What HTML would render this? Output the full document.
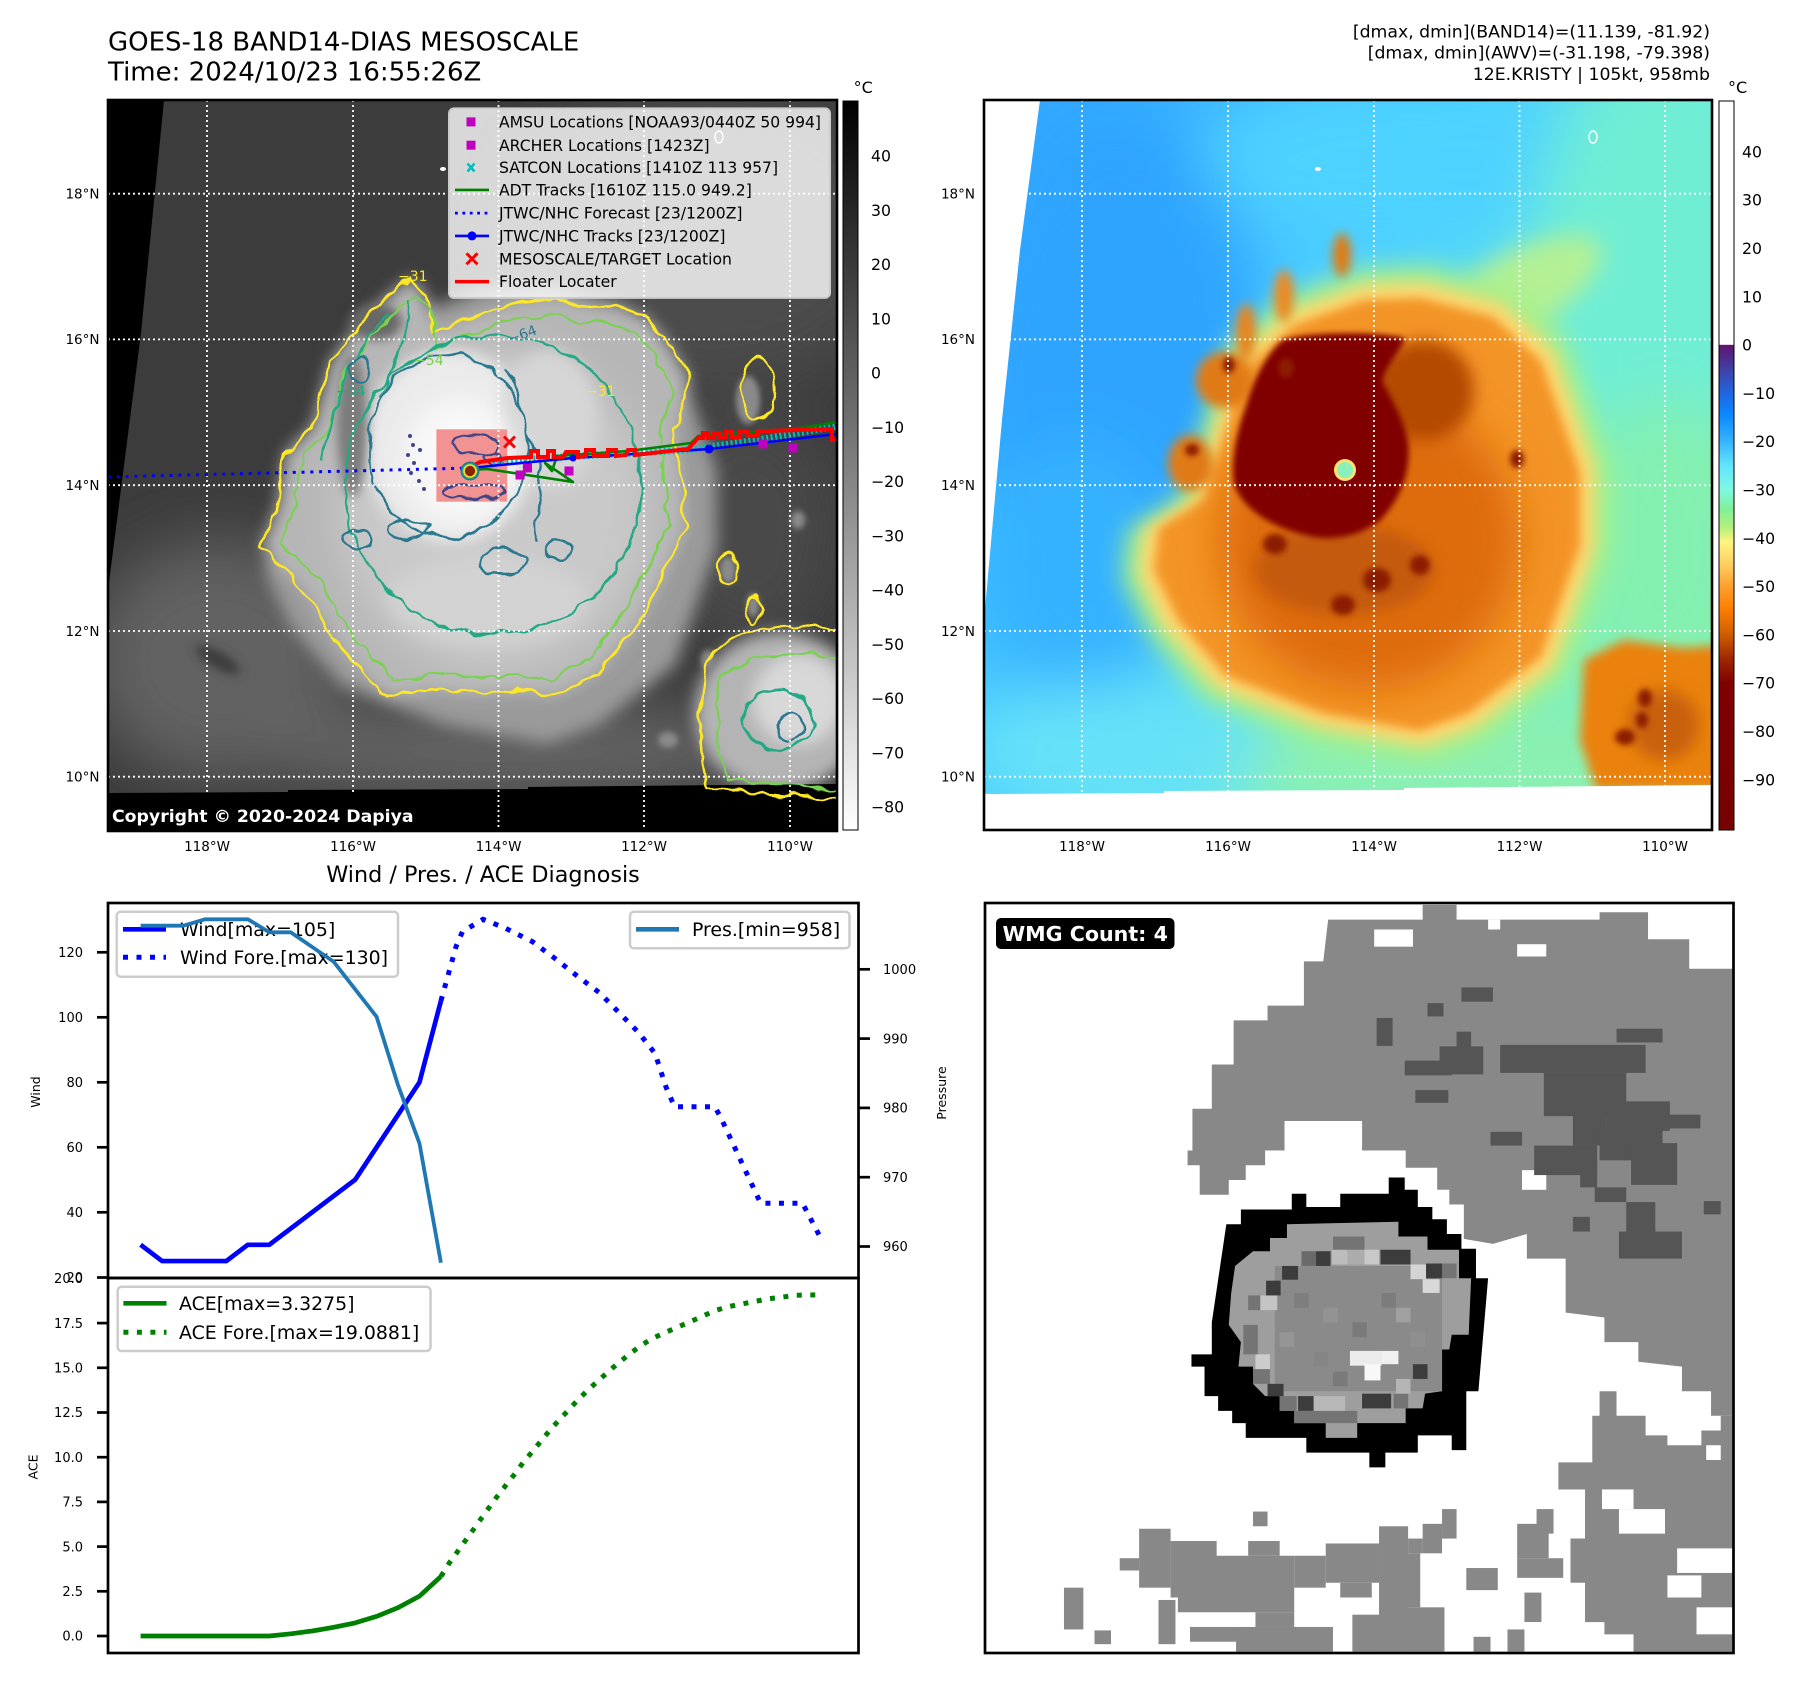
<!DOCTYPE html>
<html><head><meta charset="utf-8">
<style>
html,body{margin:0;padding:0;background:#fff;}
svg{display:block;}
text{font-family:"DejaVu Sans","Liberation Sans",sans-serif;}
</style></head>
<body>
<svg width="1801" height="1690" viewBox="0 0 1801 1690" xmlns="http://www.w3.org/2000/svg">
<defs>
  <clipPath id="mc"><rect x="0" y="0" width="729" height="731"/></clipPath>
  <filter id="b3" x="-30%" y="-30%" width="160%" height="160%"><feGaussianBlur stdDeviation="3"/></filter>
  <filter id="b5" x="-30%" y="-30%" width="160%" height="160%"><feGaussianBlur stdDeviation="5"/></filter>
  <filter id="b8" x="-30%" y="-30%" width="160%" height="160%"><feGaussianBlur stdDeviation="8"/></filter>
  <filter id="b12" x="-40%" y="-40%" width="180%" height="180%"><feGaussianBlur stdDeviation="12"/></filter>
  <filter id="b20" x="-50%" y="-50%" width="200%" height="200%"><feGaussianBlur stdDeviation="20"/></filter>
  <filter id="b30" x="-50%" y="-50%" width="200%" height="200%"><feGaussianBlur stdDeviation="30"/></filter>
  <filter id="wig" x="-10%" y="-10%" width="120%" height="120%">
    <feTurbulence type="fractalNoise" baseFrequency="0.05" numOctaves="2" seed="7" result="n"/>
    <feDisplacementMap in="SourceGraphic" in2="n" scale="12" xChannelSelector="R" yChannelSelector="G"/>
  </filter>
  <linearGradient id="cb1" x1="0" y1="0" x2="0" y2="1">
    <stop offset="0" stop-color="#000"/><stop offset="1" stop-color="#fff"/>
  </linearGradient>
  <linearGradient id="cb2" x1="0" y1="0" x2="0" y2="1">
    <stop offset="0" stop-color="#ffffff"/><stop offset="0.334" stop-color="#ffffff"/>
    <stop offset="0.335" stop-color="#5e1470"/><stop offset="0.37" stop-color="#3f42a8"/>
    <stop offset="0.40" stop-color="#1f66e0"/><stop offset="0.43" stop-color="#0a88ff"/>
    <stop offset="0.467" stop-color="#36b4ff"/><stop offset="0.50" stop-color="#62e4ff"/>
    <stop offset="0.533" stop-color="#7ef8e4"/><stop offset="0.56" stop-color="#80f096"/>
    <stop offset="0.585" stop-color="#b4f07c"/><stop offset="0.605" stop-color="#fff480"/>
    <stop offset="0.635" stop-color="#ffcf62"/><stop offset="0.666" stop-color="#ffa030"/>
    <stop offset="0.695" stop-color="#ff8000"/><stop offset="0.732" stop-color="#cf5c00"/>
    <stop offset="0.765" stop-color="#a02800"/><stop offset="0.798" stop-color="#800000"/>
    <stop offset="1" stop-color="#780000"/>
  </linearGradient>
  <linearGradient id="bg2" gradientUnits="userSpaceOnUse" x1="0" y1="0" x2="729" y2="500">
    <stop offset="0" stop-color="#2ea2ff"/><stop offset="0.45" stop-color="#4ccfff"/>
    <stop offset="0.75" stop-color="#6ceedc"/><stop offset="1" stop-color="#86f0b0"/>
  </linearGradient>
  <path id="body" d="M170,405 L177,354 L205,326 L223,261 L251,225 L270,205 L303,177 L318,195 L326,233 L372,214 L410,203 L447,198 L484,207 L512,207 L540,218 L559,242 L582,279 L566,330 L575,396 L577,428 L559,466 L531,521 L489,573 L447,596 L410,590 L363,593 L326,589 L279,597 L233,549 L196,489 L154,447 Z"/>
  <path id="orng" d="M436,198 L509,217 L557,261 L596,372 L596,446 L557,557 L485,613 L436,631 L339,613 L242,576 L194,520 L170,470 L175,428 L220,400 L242,330 L260,270 L310,225 L380,200 Z"/>
</defs>

<!-- Header texts -->
<text x="108" y="50.7" font-size="26" fill="#000">GOES-18 BAND14-DIAS MESOSCALE</text>
<text x="108" y="80.7" font-size="26" fill="#000">Time: 2024/10/23 16:55:26Z</text>
<text x="1710" y="37.5" font-size="17.3" text-anchor="end">[dmax, dmin](BAND14)=(11.139, -81.92)</text>
<text x="1710" y="58.5" font-size="17.3" text-anchor="end">[dmax, dmin](AWV)=(-31.198, -79.398)</text>
<text x="1710" y="80" font-size="17.3" text-anchor="end">12E.KRISTY | 105kt, 958mb</text>

<!-- ================= MAP 1 ================= -->
<g transform="translate(108,100)">
 <g clip-path="url(#mc)">
  <rect width="729" height="731" fill="#3c3c3c"/>
  <g filter="url(#b30)">
    <ellipse cx="600" cy="140" rx="200" ry="150" fill="#4c4c4c"/>
    <ellipse cx="110" cy="560" rx="130" ry="120" fill="#626262"/>
    <ellipse cx="400" cy="650" rx="260" ry="50" fill="#646464"/>
    <ellipse cx="640" cy="430" rx="90" ry="120" fill="#4a4a4a"/>
  </g>
  <g filter="url(#b8)">
    <use href="#orng" fill="#9a9a9a" transform="translate(385 415) scale(1.06) translate(-385 -415)"/>
    <use href="#body" fill="#b6b6b6"/>
  </g>
  <g filter="url(#b20)"><ellipse cx="385" cy="410" rx="155" ry="160" fill="#c9c9c9"/></g>
  <g filter="url(#b8)">
    <ellipse cx="342" cy="346" rx="84" ry="96" fill="#ebebeb"/>
    <ellipse cx="440" cy="320" rx="50" ry="70" fill="#d6d6d6"/>
    <ellipse cx="380" cy="500" rx="100" ry="45" fill="#d2d2d2"/>
  </g>
  <g filter="url(#b12)"><ellipse cx="352" cy="360" rx="55" ry="62" fill="#f8f8f8"/></g>
  <g filter="url(#b5)">
    <ellipse cx="244" cy="325" rx="15" ry="72" fill="#7c7c7c"/>
    <ellipse cx="268" cy="222" rx="26" ry="18" fill="#686868"/>
    <ellipse cx="110" cy="560" rx="25" ry="8" fill="#3a3a3a" transform="rotate(30 110 560)"/>
  </g>
  <g filter="url(#b8)">
    <ellipse cx="672" cy="612" rx="85" ry="80" fill="#b4b4b4"/>
    <ellipse cx="690" cy="600" rx="45" ry="45" fill="#d8d8d8"/>
  </g>
  <g filter="url(#b3)" fill="#8a8a8a">
    <ellipse cx="620" cy="470" rx="8" ry="14"/><ellipse cx="645" cy="505" rx="6" ry="12"/>
    <ellipse cx="600" cy="560" rx="7" ry="10"/><ellipse cx="560" cy="640" rx="10" ry="8"/>
    <ellipse cx="690" cy="420" rx="7" ry="9"/><ellipse cx="640" cy="300" rx="12" ry="24"/>
  </g>
  <polygon points="0,0 56,0 33,233 0,490" fill="#000"/>
  <polygon points="0,693 180,692 180,690 420,689 420,687 729,684 729,731 0,731" fill="#000"/>

  <!-- contours -->
  <g filter="url(#wig)" fill="none" stroke-width="2.4">
    <use href="#body" stroke="#fde725"/>
    <path d="M600,560 C620,525 700,520 735,530 L735,700 L600,690 C590,640 590,600 600,560Z" stroke="#fde725"/>
    <ellipse cx="620" cy="470" rx="9" ry="16" stroke="#fde725"/>
    <ellipse cx="645" cy="510" rx="7" ry="13" stroke="#fde725"/>
    <ellipse cx="650" cy="290" rx="18" ry="30" stroke="#fde725"/>
    <use href="#body" stroke="#7ad151" transform="translate(380 400) scale(0.92) translate(-380 -400)"/>
    <path d="M615,575 C640,550 700,550 735,560 L735,690 L620,680 C605,640 605,600 615,575Z" stroke="#7ad151"/>
    <ellipse cx="385" cy="385" rx="148" ry="150" stroke="#22a884"/>
    <path d="M215,360 C225,300 240,250 280,215 M300,200 C305,230 290,260 270,300" stroke="#22a884"/>
    <ellipse cx="670" cy="620" rx="35" ry="30" stroke="#22a884"/>
    <ellipse cx="340" cy="346" rx="79" ry="92" stroke="#2a788e"/>
    <path d="M398,270 C420,300 410,330 430,360 C440,390 420,420 432,440" stroke="#2a788e"/>
    <ellipse cx="300" cy="430" rx="20" ry="10" stroke="#2a788e"/>
    <ellipse cx="395" cy="462" rx="25" ry="14" stroke="#2a788e"/>
    <ellipse cx="250" cy="440" rx="15" ry="9" stroke="#2a788e"/>
    <ellipse cx="450" cy="450" rx="14" ry="10" stroke="#2a788e"/>
    <ellipse cx="682" cy="628" rx="12" ry="14" stroke="#2a788e"/>
    <ellipse cx="252" cy="270" rx="10" ry="14" stroke="#2a788e"/>
  </g>
  <g font-size="14">
    <text x="290" y="181" fill="#fde725">−31</text>
    <text x="478" y="296" fill="#fde725">−31</text>
    <text x="228" y="296" fill="#22a884">−54</text>
    <text x="306" y="265" fill="#7ad151">−54</text>
    <text x="402" y="244" fill="#2a788e" transform="rotate(-20 402 244)">−64</text>
  </g>

  <rect x="328.4" y="329.3" width="70.8" height="72.4" fill="#f29393"/>
  <g fill="none" stroke="#414487" stroke-width="2.2" filter="url(#wig)">
    <ellipse cx="368" cy="345" rx="22" ry="10"/>
    <ellipse cx="365" cy="392" rx="30" ry="7"/>
    <ellipse cx="385" cy="358" rx="8" ry="6"/>
  </g>
  <g fill="#414487">
    <circle cx="302" cy="336" r="2"/><circle cx="305" cy="345" r="2"/><circle cx="300" cy="355" r="2"/>
    <circle cx="306" cy="363" r="2"/><circle cx="303" cy="373" r="2"/><circle cx="311" cy="381" r="2"/>
    <circle cx="316" cy="389" r="2"/><circle cx="312" cy="350" r="2"/>
  </g>

  <!-- gridlines -->
  <g stroke="#fff" stroke-width="1.8" stroke-dasharray="2 3">
    <line x1="0" y1="93.7" x2="729" y2="93.7"/><line x1="0" y1="239.4" x2="729" y2="239.4"/>
    <line x1="0" y1="385.2" x2="729" y2="385.2"/><line x1="0" y1="531" x2="729" y2="531"/>
    <line x1="0" y1="676.7" x2="729" y2="676.7"/>
    <line x1="99" y1="0" x2="99" y2="731"/><line x1="245" y1="0" x2="245" y2="731"/>
    <line x1="390.5" y1="0" x2="390.5" y2="731"/><line x1="536" y1="0" x2="536" y2="731"/>
    <line x1="682" y1="0" x2="682" y2="731"/>
  </g>
  <ellipse cx="611" cy="37" rx="4" ry="6" fill="none" stroke="#fff" stroke-width="1.5"/>
  <ellipse cx="335" cy="69" rx="3" ry="2" fill="#fff"/>

  <!-- tracks -->
  <path d="M0,377 L362,368" stroke="#0000ff" stroke-width="3" stroke-dasharray="3 5.8" fill="none"/>
  <path d="M385,362 L470,356 L580,350 L650,340 L729,326" stroke="#00bfbf" stroke-width="7" stroke-dasharray="2 2.5" fill="none"/>
  <path d="M362,370 L379,369 L465,382 L437,363 L444,371 L449,356 L520,351 L583,343 L590,336 L686,329 L729,322" stroke="#008000" stroke-width="2.6" fill="none" stroke-linejoin="round"/>
  <path d="M362,368 L465,358 L601,349 L729,334" stroke="#0000ff" stroke-width="2.6" fill="none"/>
  <circle cx="601" cy="349" r="4.5" fill="#0000ff"/><circle cx="465" cy="358" r="3.5" fill="#0000ff"/>
  <path d="M358,369 L372,362 L400,358 L423,357 L423,351 L430,351 L430,357 L440,357 L440,351 L446,351 L446,357 L455,357 L458,352 L470,352 L470,357 L478,356 L478,350 L486,350 L486,356 L500,356 L500,350 L508,350 L508,356 L518,355 L520,350 L527,350 L527,355 L580,349 L590,338 L595,338 L595,333 L600,333 L600,338 L606,338 L606,333 L612,333 L612,337 L618,337 L618,332 L624,332 L624,337 L632,337 L632,332 L640,332 L640,336 L650,336 L650,331 L660,331 L690,330 L724,329 L724,340 L729,340" stroke="#ff0000" stroke-width="4" fill="none" stroke-linejoin="miter"/>
  <g fill="#bf00bf">
    <rect x="407.5" y="370.5" width="9" height="9"/><rect x="415" y="363.5" width="9" height="9"/>
    <rect x="456.5" y="366.5" width="9" height="9"/><rect x="650.5" y="339.5" width="9" height="9"/>
    <rect x="680.5" y="343.5" width="9" height="9"/>
  </g>
  <path d="M396,336.5 L407,347.5 M407,336.5 L396,347.5" stroke="#ff0000" stroke-width="3"/>
  <circle cx="362" cy="371" r="9.5" fill="#2a788e"/>
  <circle cx="362" cy="371" r="8" fill="#22a884"/>
  <circle cx="362" cy="371" r="6.8" fill="#fde725"/>
  <circle cx="362" cy="371" r="5.2" fill="#8b2500"/>

  <!-- legend -->
  <rect x="341" y="8.4" width="381" height="189.5" rx="5" fill="#fff" fill-opacity="0.8" stroke="#cccccc" stroke-width="2"/>
  <rect x="358.5" y="17.4" width="9" height="9" fill="#bf00bf"/>
  <rect x="358.5" y="40.7" width="9" height="9" fill="#bf00bf"/>
  <path d="M359.5,63.5 L366.5,71.5 M366.5,63.5 L359.5,71.5" stroke="#00bfbf" stroke-width="2.5"/>
  <line x1="347" y1="89.9" x2="381" y2="89.9" stroke="#008000" stroke-width="2.6"/>
  <line x1="347" y1="113.1" x2="381" y2="113.1" stroke="#0000ff" stroke-width="2.8" stroke-dasharray="2.8 4.6"/>
  <line x1="347" y1="135.9" x2="381" y2="135.9" stroke="#0000ff" stroke-width="2.6"/>
  <circle cx="364" cy="135.9" r="4.5" fill="#0000ff"/>
  <path d="M358.5,153.3 L369.5,164.3 M369.5,153.3 L358.5,164.3" stroke="#ff0000" stroke-width="3"/>
  <line x1="347" y1="181.6" x2="381" y2="181.6" stroke="#ff0000" stroke-width="3.5"/>
  <g font-size="15.6" fill="#000">
    <text x="391" y="27.5">AMSU Locations [NOAA93/0440Z 50 994]</text>
    <text x="391" y="50.8">ARCHER Locations [1423Z]</text>
    <text x="391" y="73.1">SATCON Locations [1410Z 113 957]</text>
    <text x="391" y="95.5">ADT Tracks [1610Z 115.0 949.2]</text>
    <text x="391" y="118.7">JTWC/NHC Forecast [23/1200Z]</text>
    <text x="391" y="141.5">JTWC/NHC Tracks [23/1200Z]</text>
    <text x="391" y="164.4">MESOSCALE/TARGET Location</text>
    <text x="391" y="187.2">Floater Locater</text>
  </g>
  <rect x="0" y="694" width="308" height="37" fill="#000"/>
  <text x="4" y="722" font-size="17.3" font-weight="bold" fill="#fff">Copyright © 2020-2024 Dapiya</text>
 </g>
 <rect x="0" y="0" width="729" height="731" fill="none" stroke="#000" stroke-width="2.6"/>
</g>

<!-- Map 1 tick labels -->
<g font-size="13.5" fill="#000" text-anchor="end">
  <text x="99.5" y="198.5">18°N</text><text x="99.5" y="344.2">16°N</text>
  <text x="99.5" y="490">14°N</text><text x="99.5" y="635.8">12°N</text>
  <text x="99.5" y="781.5">10°N</text>
</g>
<g font-size="13.5" fill="#000" text-anchor="middle">
  <text x="207" y="851">118°W</text><text x="353" y="851">116°W</text>
  <text x="498.5" y="851">114°W</text><text x="644" y="851">112°W</text>
  <text x="790" y="851">110°W</text>
</g>

<!-- Colorbar 1 -->
<text x="853.6" y="93" font-size="16">°C</text>
<rect x="843" y="101" width="15" height="729" fill="url(#cb1)" stroke="#000" stroke-width="1"/>
<g font-size="15.7" fill="#000">
  <text x="871" y="161.7">40</text><text x="871" y="216">30</text><text x="871" y="270.2">20</text>
  <text x="871" y="324.5">10</text><text x="871" y="378.7">0</text><text x="871" y="433">−10</text>
  <text x="871" y="487.2">−20</text><text x="871" y="541.5">−30</text><text x="871" y="595.7">−40</text>
  <text x="871" y="650">−50</text><text x="871" y="704.2">−60</text><text x="871" y="758.5">−70</text>
  <text x="871" y="812.7">−80</text>
</g>

<!-- ================= MAP 2 ================= -->
<g transform="translate(984,100)">
 <g clip-path="url(#mc)">
  <rect width="729" height="731" fill="url(#bg2)"/>
  <g filter="url(#b30)">
    <ellipse cx="130" cy="280" rx="150" ry="280" fill="#2ea4ff"/>
    <ellipse cx="90" cy="470" rx="100" ry="130" fill="#36b2ff"/>
    <ellipse cx="420" cy="60" rx="200" ry="80" fill="#4ed2ff"/>
    <ellipse cx="680" cy="150" rx="130" ry="200" fill="#70eed4"/>
    <ellipse cx="680" cy="450" rx="100" ry="150" fill="#84f0b0"/>
    <ellipse cx="420" cy="665" rx="260" ry="55" fill="#8cf0b0"/>
    <ellipse cx="130" cy="650" rx="150" ry="65" fill="#66e2f8"/>
  </g>
  <g filter="url(#b12)">
    <ellipse cx="520" cy="200" rx="110" ry="40" fill="#b4f094" transform="rotate(-30 520 200)"/>
    <use href="#orng" fill="#a6f08a" transform="translate(385 415) scale(1.15) translate(-385 -415)"/>
  </g>
  <g filter="url(#b8)">
    <use href="#orng" fill="#ffd66e" transform="translate(385 415) scale(1.07) translate(-385 -415)"/>
  </g>
  <g filter="url(#b5)">
    <use href="#orng" fill="#f39427"/>
    <ellipse cx="300" cy="196" rx="10" ry="26" fill="#ec8a20"/>
    <ellipse cx="262" cy="232" rx="10" ry="28" fill="#e8841c"/>
    <ellipse cx="240" cy="280" rx="28" ry="28" fill="#e07a14"/>
    <ellipse cx="206" cy="363" rx="22" ry="28" fill="#e07a14"/>
    <ellipse cx="358" cy="155" rx="9" ry="22" fill="#e27a10"/>
    <polygon points="600,560 640,540 700,548 735,545 735,690 612,690 596,640" fill="#ea820f"/>
  </g>
  <g filter="url(#b20)"><ellipse cx="385" cy="440" rx="150" ry="150" fill="#de6c08"/></g>
  <g filter="url(#b8)">
    <ellipse cx="440" cy="290" rx="50" ry="50" fill="#b44a06"/>
    <ellipse cx="360" cy="470" rx="90" ry="45" fill="#c45a08"/>
    <ellipse cx="680" cy="625" rx="35" ry="35" fill="#c86010"/>
  </g>
  <path d="M300,242 C330,234 390,234 418,240 C410,255 398,268 396,282 C405,300 418,320 422,345 C424,375 412,400 395,418 C375,434 345,440 320,432 C290,425 262,408 253,385 C248,360 256,330 265,305 C272,280 285,255 300,242 Z" fill="#800000" stroke="#800000" stroke-width="5" stroke-linejoin="round" filter="url(#b3)"/>
  <g fill="#8c1c00" filter="url(#b3)">
    <ellipse cx="291" cy="444" rx="12" ry="10"/><ellipse cx="393" cy="480" rx="14" ry="12"/>
    <ellipse cx="436" cy="465" rx="10" ry="10"/><ellipse cx="359" cy="505" rx="12" ry="10"/>
    <ellipse cx="533" cy="359" rx="7" ry="9"/><ellipse cx="245" cy="265" rx="6" ry="8"/>
    <ellipse cx="208" cy="350" rx="7" ry="6"/><ellipse cx="302" cy="268" rx="8" ry="10"/>
    <ellipse cx="661" cy="598" rx="7" ry="9"/><ellipse cx="658" cy="620" rx="6" ry="8"/>
    <ellipse cx="641" cy="637" rx="10" ry="8"/>
  </g>
  <circle cx="361" cy="370" r="11" fill="#ffe070"/>
  <circle cx="361" cy="370" r="8" fill="#88f0b8"/>
  <polygon points="0,0 56,0 36,150 18,320 0,520" fill="#fff"/>
  <polygon points="0,694 180,693 180,691 420,690 420,688 729,685 729,731 0,731" fill="#fff"/>
  <g stroke="#fff" stroke-width="1.8" stroke-dasharray="2 3">
    <line x1="0" y1="93.7" x2="729" y2="93.7"/><line x1="0" y1="239.4" x2="729" y2="239.4"/>
    <line x1="0" y1="385.2" x2="729" y2="385.2"/><line x1="0" y1="531" x2="729" y2="531"/>
    <line x1="0" y1="676.7" x2="729" y2="676.7"/>
    <line x1="98" y1="0" x2="98" y2="731"/><line x1="244" y1="0" x2="244" y2="731"/>
    <line x1="390" y1="0" x2="390" y2="731"/><line x1="535.5" y1="0" x2="535.5" y2="731"/>
    <line x1="681" y1="0" x2="681" y2="731"/>
  </g>
  <ellipse cx="609" cy="37" rx="4" ry="6" fill="none" stroke="#fff" stroke-width="1.5"/>
  <ellipse cx="334" cy="69" rx="3" ry="2" fill="#fff"/>
 </g>
 <rect x="0" y="0" width="728" height="730" fill="none" stroke="#000" stroke-width="2.6"/>
</g>

<g font-size="13.5" fill="#000" text-anchor="end">
  <text x="975" y="198.5">18°N</text><text x="975" y="344.2">16°N</text>
  <text x="975" y="490">14°N</text><text x="975" y="635.8">12°N</text>
  <text x="975" y="781.5">10°N</text>
</g>
<g font-size="13.5" fill="#000" text-anchor="middle">
  <text x="1082" y="851">118°W</text><text x="1228" y="851">116°W</text>
  <text x="1374" y="851">114°W</text><text x="1519.5" y="851">112°W</text>
  <text x="1665" y="851">110°W</text>
</g>

<!-- Colorbar 2 -->
<text x="1728" y="93" font-size="16">°C</text>
<rect x="1719" y="101" width="15" height="729" fill="url(#cb2)" stroke="#000" stroke-width="1"/>
<g font-size="15.7" fill="#000">
  <text x="1742" y="157.4">40</text><text x="1742" y="205.7">30</text><text x="1742" y="254">20</text>
  <text x="1742" y="302.3">10</text><text x="1742" y="350.6">0</text><text x="1742" y="398.9">−10</text>
  <text x="1742" y="447.2">−20</text><text x="1742" y="495.5">−30</text><text x="1742" y="543.8">−40</text>
  <text x="1742" y="592.1">−50</text><text x="1742" y="640.4">−60</text><text x="1742" y="688.7">−70</text>
  <text x="1742" y="737">−80</text><text x="1742" y="785.3">−90</text>
</g>

<!-- ================= WIND / PRES / ACE ================= -->
<text x="483" y="882" font-size="22.3" text-anchor="middle">Wind / Pres. / ACE Diagnosis</text>

<polyline points="140.6,1244.8 162.05,1261.05 183.5,1261.05 204.95,1261.05 226.4,1261.05 247.85,1244.8 269.3,1244.8 290.75,1228.55 312.2,1212.3 333.65,1196.05 355.1,1179.8 376.55,1147.3 398,1114.8 419.45,1082.3 440.9,1001" fill="none" stroke="#0000ff" stroke-width="4.7" stroke-linejoin="round"/>
<polyline points="440.9,1001 456,946.7 462.4,931.7 483,919.3 505,928 532.5,941.7 554.8,958.3 577.2,976 599.5,992.7 637.8,1031.7 655,1053.3 665.9,1086.7 674.5,1106.7 714.7,1106.7 720.4,1116.7 760.6,1203.3 802.5,1203.3 822.6,1241.7" fill="none" stroke="#0000ff" stroke-width="5" stroke-dasharray="5 8.5"/>

<rect x="116.7" y="911.7" width="281.3" height="65" rx="4" fill="#fff" fill-opacity="0.8" stroke="#cccccc" stroke-width="2.5"/>
<line x1="123" y1="929.3" x2="166" y2="929.3" stroke="#0000ff" stroke-width="4.7"/>
<line x1="123" y1="957.3" x2="166" y2="957.3" stroke="#0000ff" stroke-width="5" stroke-dasharray="5 8.5"/>
<text x="180" y="936" font-size="18.9">Wind[max=105]</text>
<text x="180" y="964" font-size="18.9">Wind Fore.[max=130]</text>

<polyline points="140.6,925.7 183.5,925.7 204.95,919.3 247.85,919.3 269.3,932.3 290.75,932.3 333.65,961.7 376.55,1016.7 398,1085 419.45,1143.3 440.9,1262.7" fill="none" stroke="#1f77b4" stroke-width="3.8" stroke-linejoin="round"/>
<rect x="630" y="911.7" width="219.5" height="36.6" rx="4" fill="#fff" fill-opacity="0.8" stroke="#cccccc" stroke-width="2.5"/>
<line x1="636" y1="929.3" x2="679" y2="929.3" stroke="#1f77b4" stroke-width="4.7"/>
<text x="692" y="936" font-size="18.9">Pres.[min=958]</text>

<polyline points="140.6,1636 162.05,1636 183.5,1636 204.95,1636 226.4,1636 247.85,1636 269.3,1636 290.75,1633.8 312.2,1631 333.65,1627.3 355.1,1622.9 376.55,1616.4 398,1607.7 419.45,1596.2 440.9,1576.5" fill="none" stroke="#008000" stroke-width="4.7" stroke-linejoin="round"/>
<polyline points="440.9,1576.5 449.5,1562.7 457.5,1551.7 465.6,1540.3 473.6,1529.3 481.6,1518 489.7,1506.7 497.7,1495.7 506.3,1484.7 515,1473.7 523,1462.7 532,1452 540.8,1441.3 549.4,1430.7 558.5,1420.7 568.3,1410.3 577.5,1400.3 587.3,1390.7 597.6,1381.3 607.9,1372 618.3,1363 629.7,1354 640.6,1345.7 652.7,1338.3 664.8,1332.7 677.4,1327.3 689.4,1322 701.5,1316.7 714.7,1310.7 728,1306.7 741.7,1304 755.5,1301.3 769.2,1298.7 783,1297 796.2,1295.3 810,1295 823.8,1294.7" fill="none" stroke="#008000" stroke-width="5" stroke-dasharray="5 8.5"/>
<rect x="117.7" y="1286.7" width="312.8" height="64.3" rx="4" fill="#fff" fill-opacity="0.8" stroke="#cccccc" stroke-width="2.5"/>
<line x1="123.4" y1="1303.3" x2="166.5" y2="1303.3" stroke="#008000" stroke-width="4.7"/>
<line x1="123.4" y1="1332.3" x2="166.5" y2="1332.3" stroke="#008000" stroke-width="5" stroke-dasharray="5 8.5"/>
<text x="179" y="1310" font-size="18.9">ACE[max=3.3275]</text>
<text x="179" y="1339" font-size="18.9">ACE Fore.[max=19.0881]</text>

<rect x="108" y="903" width="750.5" height="375" fill="none" stroke="#000" stroke-width="2.7"/>
<rect x="108" y="1278" width="750.5" height="375" fill="none" stroke="#000" stroke-width="2.7"/>

<g stroke="#000" stroke-width="2.7">
  <line x1="97" y1="952.3" x2="108" y2="952.3"/><line x1="97" y1="1017.3" x2="108" y2="1017.3"/>
  <line x1="97" y1="1082.3" x2="108" y2="1082.3"/><line x1="97" y1="1147.3" x2="108" y2="1147.3"/>
  <line x1="97" y1="1212.3" x2="108" y2="1212.3"/><line x1="97" y1="1277.5" x2="108" y2="1277.5"/>
  <line x1="97" y1="1323.1" x2="108" y2="1323.1"/><line x1="97" y1="1367.8" x2="108" y2="1367.8"/>
  <line x1="97" y1="1412.5" x2="108" y2="1412.5"/><line x1="97" y1="1457.2" x2="108" y2="1457.2"/>
  <line x1="97" y1="1501.9" x2="108" y2="1501.9"/><line x1="97" y1="1546.6" x2="108" y2="1546.6"/>
  <line x1="97" y1="1591.3" x2="108" y2="1591.3"/><line x1="97" y1="1636" x2="108" y2="1636"/>
  <line x1="858" y1="969.3" x2="870" y2="969.3"/><line x1="858" y1="1038.6" x2="870" y2="1038.6"/>
  <line x1="858" y1="1107.9" x2="870" y2="1107.9"/><line x1="858" y1="1177.2" x2="870" y2="1177.2"/>
  <line x1="858" y1="1246.5" x2="870" y2="1246.5"/>
</g>
<g font-size="13" text-anchor="end" fill="#000">
  <text x="83" y="957">120</text><text x="83" y="1022">100</text><text x="83" y="1087">80</text>
  <text x="83" y="1152">60</text><text x="83" y="1217">40</text><text x="83" y="1282">20</text>
  <text x="83" y="1283">20.0</text><text x="83" y="1327.8">17.5</text><text x="83" y="1372.5">15.0</text>
  <text x="83" y="1417.2">12.5</text><text x="83" y="1461.9">10.0</text><text x="83" y="1506.6">7.5</text>
  <text x="83" y="1551.3">5.0</text><text x="83" y="1596">2.5</text><text x="83" y="1640.7">0.0</text>
</g>
<g font-size="13" fill="#000">
  <text x="883" y="974">1000</text><text x="883" y="1043.3">990</text><text x="883" y="1112.6">980</text>
  <text x="883" y="1181.9">970</text><text x="883" y="1251.2">960</text>
</g>
<text transform="translate(40,1092) rotate(-90)" font-size="12.5" text-anchor="middle">Wind</text>
<text transform="translate(946,1093) rotate(-90)" font-size="12.5" text-anchor="middle">Pressure</text>
<text transform="translate(37.5,1467) rotate(-90)" font-size="12.5" text-anchor="middle">ACE</text>

<!-- ================= WMG PANEL ================= -->
<g transform="translate(984 900) scale(0.4847 0.4912)">
  <polygon fill="#888888" points="710,40 905,40 905,10 975,10 975,40 1270,40 1270,25 1370,25 1370,80 1455,80 1455,140 1545,140 1545,1050 1500,1050 1500,1000 1440,1000 1440,950 1350,940 1350,900 1280,900 1280,850 1200,840 1200,730 1120,730 1120,680 1050,700 990,690 990,620 960,620 960,590 935,590 935,545 870,545 870,510 780,510 780,450 620,450 620,510 580,510 580,540 540,540 540,570 505,570 505,600 445,600 445,540 420,540 420,510 430,510 430,425 470,425 470,335 515,335 515,245 585,245 585,215 660,215 660,125 700,125"/>
  <g fill="#fff">
    <rect x="805" y="60" width="80" height="35"/><rect x="1100" y="90" width="60" height="25"/>
    <rect x="1110" y="550" width="50" height="40"/><rect x="1040" y="40" width="25" height="20"/>
  </g>
  <g fill="#555555">
    <rect x="985" y="178" width="65" height="29"/><rect x="915" y="210" width="33" height="27"/>
    <rect x="810" y="240" width="33" height="57"/><rect x="975" y="268" width="30" height="32"/>
    <rect x="940" y="298" width="90" height="57"/><rect x="868" y="327" width="97" height="30"/>
    <rect x="1065" y="295" width="300" height="57"/><rect x="1305" y="262" width="95" height="28"/>
    <rect x="890" y="387" width="68" height="26"/><rect x="1155" y="352" width="170" height="88"/>
    <rect x="1045" y="472" width="65" height="28"/><rect x="1135" y="500" width="130" height="60"/>
    <rect x="1215" y="410" width="70" height="90"/><rect x="1285" y="410" width="130" height="60"/>
    <rect x="1410" y="437" width="68" height="28"/><rect x="1270" y="465" width="130" height="65"/>
    <rect x="1335" y="495" width="95" height="85"/><rect x="1230" y="530" width="35" height="55"/>
    <rect x="1260" y="585" width="65" height="30"/><rect x="1325" y="615" width="60" height="85"/>
    <rect x="1310" y="675" width="130" height="55"/><rect x="1215" y="645" width="35" height="30"/>
    <rect x="1485" y="613" width="35" height="27"/>
  </g>
  <g fill="#888888">
    <rect x="320" y="1280" width="65" height="120"/><rect x="280" y="1340" width="40" height="25"/>
    <rect x="385" y="1305" width="95" height="115"/><rect x="400" y="1335" width="240" height="115"/>
    <rect x="545" y="1305" width="65" height="30"/><rect x="560" y="1450" width="80" height="30"/>
    <rect x="640" y="1335" width="65" height="65"/><rect x="705" y="1310" width="110" height="80"/>
    <rect x="735" y="1390" width="65" height="30"/><rect x="815" y="1275" width="60" height="255"/>
    <rect x="875" y="1300" width="30" height="30"/><rect x="905" y="1270" width="40" height="60"/>
    <rect x="945" y="1240" width="30" height="60"/><rect x="860" y="1330" width="40" height="110"/>
    <rect x="870" y="1440" width="80" height="90"/><rect x="425" y="1480" width="155" height="30"/>
    <rect x="520" y="1480" width="200" height="50"/><rect x="760" y="1455" width="110" height="75"/>
    <rect x="995" y="1360" width="65" height="45"/><rect x="1100" y="1270" width="65" height="70"/>
    <rect x="1140" y="1240" width="35" height="50"/><rect x="1100" y="1340" width="95" height="40"/>
    <rect x="1115" y="1410" width="35" height="60"/><rect x="1080" y="1485" width="35" height="45"/>
    <rect x="1010" y="1500" width="35" height="30"/><rect x="555" y="1245" width="30" height="30"/>
    <rect x="165" y="1400" width="40" height="85"/><rect x="228" y="1487" width="34" height="28"/>
    <rect x="360" y="1425" width="35" height="90"/>
    <polygon points="1270,1000 1305,1000 1305,1050 1365,1050 1365,1090 1410,1090 1410,1110 1480,1110 1480,1080 1520,1080 1520,1050 1545,1050 1545,1530 1340,1530 1340,1495 1280,1495 1280,1470 1240,1470 1240,1390 1210,1390 1210,1300 1240,1300 1240,1200 1185,1200 1185,1145 1255,1145 1255,1050 1270,1050"/>
  </g>
  <g fill="#fff">
    <rect x="1490" y="1110" width="30" height="30"/><rect x="1275" y="1200" width="65" height="40"/>
    <rect x="1310" y="1240" width="95" height="50"/><rect x="1430" y="1320" width="115" height="50"/>
    <rect x="1410" y="1375" width="70" height="45"/><rect x="1470" y="1440" width="75" height="55"/>
  </g>
  <g fill="#888888">
    <rect x="1345" y="1497" width="25" height="30"/><rect x="1505" y="1497" width="30" height="30"/>
  </g>
  <polygon fill="#000" points="500,660 530,660 530,630 635,630 635,598 665,598 665,625 735,625 735,598 835,598 835,565 868,565 868,590 895,590 895,625 925,625 925,650 955,650 955,680 985,680 985,710 1015,710 1015,770 1040,770 1020,1000 995,1000 995,1120 965,1120 965,1090 895,1090 895,1125 828,1125 828,1155 795,1155 795,1125 665,1125 665,1095 540,1095 540,1065 512,1065 512,1040 483,1040 483,1010 455,1010 455,950 428,950 428,925 470,925 470,860"/>
  <polygon fill="#9e9e9e" points="625,660 855,655 855,685 915,685 915,712 980,712 980,770 1005,770 1000,885 965,885 960,915 945,915 945,1000 910,1005 905,1035 870,1035 870,1065 770,1065 770,1095 705,1095 705,1065 640,1065 640,1040 610,1040 610,1010 580,1010 555,985 555,950 525,950 530,900 505,865 510,800 518,745 555,715 590,715 590,688 625,688"/>
  <rect x="600" y="745" width="345" height="255" fill="#8a8a8a"/>
  <g>
    <rect x="640" y="800" width="30" height="30" fill="#7e7e7e"/><rect x="700" y="830" width="30" height="30" fill="#939393"/>
    <rect x="760" y="860" width="30" height="30" fill="#7a7a7a"/><rect x="820" y="800" width="30" height="30" fill="#7c7c7c"/>
    <rect x="680" y="920" width="30" height="30" fill="#858585"/><rect x="720" y="960" width="30" height="30" fill="#7a7a7a"/>
    <rect x="610" y="880" width="30" height="30" fill="#959595"/><rect x="880" y="880" width="30" height="30" fill="#8f8f8f"/>
    <rect x="850" y="830" width="30" height="30" fill="#a0a0a0"/>
    <rect x="720" y="685" width="65" height="30" fill="#747474"/><rect x="545" y="805" width="30" height="30" fill="#747474"/>
    <rect x="535" y="865" width="30" height="60" fill="#747474"/><rect x="555" y="955" width="35" height="30" fill="#747474"/>
    <rect x="610" y="1010" width="35" height="30" fill="#747474"/><rect x="640" y="1040" width="130" height="25" fill="#747474"/>
    <rect x="845" y="1005" width="30" height="30" fill="#747474"/><rect x="945" y="740" width="30" height="30" fill="#747474"/>
    <rect x="718" y="712" width="32" height="30" fill="#bcbcbc"/><rect x="750" y="712" width="35" height="30" fill="#acacac"/>
    <rect x="785" y="712" width="30" height="30" fill="#c8c8c8"/><rect x="880" y="742" width="32" height="30" fill="#d4d4d4"/>
    <rect x="905" y="772" width="35" height="28" fill="#d8d8d8"/><rect x="570" y="805" width="35" height="30" fill="#c4c4c4"/>
    <rect x="560" y="925" width="30" height="30" fill="#cccccc"/><rect x="680" y="1010" width="65" height="30" fill="#b8b8b8"/>
    <rect x="850" y="975" width="30" height="30" fill="#b4b4b4"/><rect x="755" y="918" width="65" height="30" fill="#ececec"/>
    <rect x="785" y="945" width="33" height="33" fill="#f8f8f8"/><rect x="820" y="918" width="35" height="27" fill="#f0f0f0"/>
    <rect x="582" y="775" width="30" height="30" fill="#3c3c3c"/><rect x="615" y="745" width="33" height="28" fill="#3c3c3c"/>
    <rect x="655" y="715" width="30" height="30" fill="#6a6a6a"/><rect x="685" y="715" width="30" height="30" fill="#3c3c3c"/>
    <rect x="818" y="712" width="62" height="30" fill="#3c3c3c"/><rect x="912" y="740" width="33" height="30" fill="#3c3c3c"/>
    <rect x="585" y="985" width="33" height="25" fill="#3c3c3c"/><rect x="648" y="1010" width="32" height="30" fill="#3c3c3c"/>
    <rect x="780" y="1005" width="60" height="30" fill="#3c3c3c"/><rect x="885" y="945" width="30" height="30" fill="#3c3c3c"/>
  </g>
</g>
<rect x="985" y="903" width="748.5" height="750" fill="none" stroke="#000" stroke-width="2.7"/>
<rect x="996" y="918" width="178.5" height="31" rx="5" fill="#000"/>
<text x="1085.2" y="941" font-size="20.6" font-weight="bold" fill="#fff" text-anchor="middle">WMG Count: 4</text>

</svg>
</body>
</html>
